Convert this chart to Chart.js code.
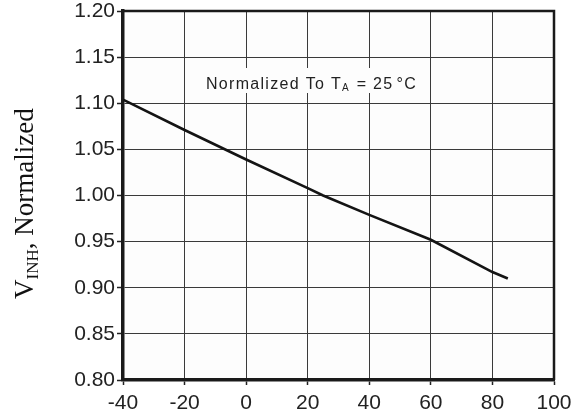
<!DOCTYPE html>
<html>
<head>
<meta charset="utf-8">
<script src="https://cdn.jsdelivr.net/npm/chart.js@4"></script>
<style>
  html, body { margin: 0; padding: 0; background: #fff; }
  canvas { display: block; }
</style>
</head>
<body>
<canvas id="chart" width="588" height="416"></canvas>
<script>
    "use strict";

    // temperature (°C) and normalized VINH
    const temps = [-40, -20, 0, 20, 25, 40, 60, 80, 85];
    const vinh = [1.104, 1.071, 1.039, 1.008, 1.000, 0.979, 0.952, 0.917, 0.910];
    const xTicks = [-40, -20, 0, 20, 40, 60, 80, 100];
    const yTicks = [0.80, 0.85, 0.90, 0.95, 1.00, 1.05, 1.10, 1.15, 1.20];

    const sans = "'Liberation Sans', Arial, sans-serif";
    const serif = "'Liberation Serif', 'Times New Roman', serif";

    const frame = {
        id: 'frame',
        beforeDraw: function (chart) {
            const a = chart.chartArea, ctx = chart.ctx;
            ctx.save();
            ctx.fillStyle = '#fdfdfd';
            ctx.fillRect(a.left, a.top, a.right - a.left, a.bottom - a.top);
            ctx.restore();
        },
        afterDatasetsDraw: function (chart) {
            const a = chart.chartArea, ctx = chart.ctx;
            ctx.save();
            // top and right edges of the box
            ctx.strokeStyle = '#1a1a1a';
            ctx.lineWidth = 2.5;
            ctx.beginPath();
            ctx.moveTo(a.left, a.top);
            ctx.lineTo(a.right, a.top);
            ctx.lineTo(a.right, a.bottom);
            ctx.stroke();

            // note box
            ctx.fillStyle = '#fdfdfd';
            ctx.fillRect(196, 68, 230, 25);
            ctx.fillStyle = '#222';
            ctx.textBaseline = 'alphabetic';
            ctx.font = '16px ' + sans;
            ctx.letterSpacing = '1.3px';
            let x = 206, y = 89;
            const part1 = 'Normalized To T';
            ctx.fillText(part1, x, y);
            x += ctx.measureText(part1).width;
            ctx.font = '10px ' + sans;
            ctx.letterSpacing = '0px';
            ctx.fillText('A', x, y + 2);
            x += ctx.measureText('A').width + 8;
            ctx.font = '16px ' + sans;
            ctx.letterSpacing = '1.3px';
            ctx.fillText('= 25', x, y);
            x += ctx.measureText('= 25').width + 3;
            ctx.fillText('\u00B0C', x, y);

            // y axis title with subscript
            ctx.letterSpacing = '0px';
            ctx.translate(33, 299);
            ctx.rotate(-Math.PI / 2);
            ctx.fillStyle = '#111';
            let tx = 0;
            ctx.font = '27px ' + serif;
            ctx.fillText('V', tx, 0);
            tx += ctx.measureText('V').width;
            ctx.font = '17px ' + serif;
            ctx.fillText('INH', tx, 5);
            tx += ctx.measureText('INH').width;
            ctx.font = '27px ' + serif;
            ctx.fillText(', Normalized', tx, 0);
            ctx.restore();
        }
    };

    new Chart(document.getElementById('chart').getContext('2d'), {
        type: 'line',
        data: {
            datasets: [{
                data: temps.map((t, i) => ({x: t, y: vinh[i]})),
                borderColor: '#141414',
                borderWidth: 2.6,
                pointRadius: 0,
                fill: false,
                tension: 0
            }]
        },
        plugins: [frame],
        options: {
            responsive: false,
            animation: false,
            events: [],
            layout: {padding: {top: 11, right: 34, left: 0, bottom: 0}},
            plugins: {legend: {display: false}, tooltip: {enabled: false}},
            scales: {
                x: {
                    type: 'linear',
                    min: -40,
                    max: 100,
                    afterBuildTicks: function (scale) {
                        scale.ticks = xTicks.map(v => ({value: v}));
                    },
                    afterFit: function (scale) {
                        scale.height = 36;
                        scale.paddingLeft = 0;
                        scale.paddingRight = 0;
                    },
                    grid: {color: '#3a3a3a', lineWidth: 1, tickLength: 5, tickColor: '#222', tickWidth: 1.5},
                    border: {color: '#1a1a1a', width: 3.5},
                    ticks: {
                        color: '#222',
                        padding: 6,
                        maxRotation: 0,
                        autoSkip: false,
                        font: {family: sans, size: 21}
                    }
                },
                y: {
                    min: 0.8,
                    max: 1.2,
                    afterBuildTicks: function (scale) {
                        scale.ticks = yTicks.map(v => ({value: v}));
                    },
                    afterFit: function (scale) {
                        scale.width = 123;
                        scale.paddingTop = 0;
                        scale.paddingBottom = 0;
                    },
                    grid: {color: '#3a3a3a', lineWidth: 1, tickLength: 6, tickColor: '#222', tickWidth: 1.5},
                    border: {color: '#1a1a1a', width: 3.5},
                    ticks: {
                        color: '#222',
                        padding: 2,
                        autoSkip: false,
                        font: {family: sans, size: 21},
                        callback: v => v.toFixed(2)
                    }
                }
            }
        }
    });
</script>
</body>
</html>
